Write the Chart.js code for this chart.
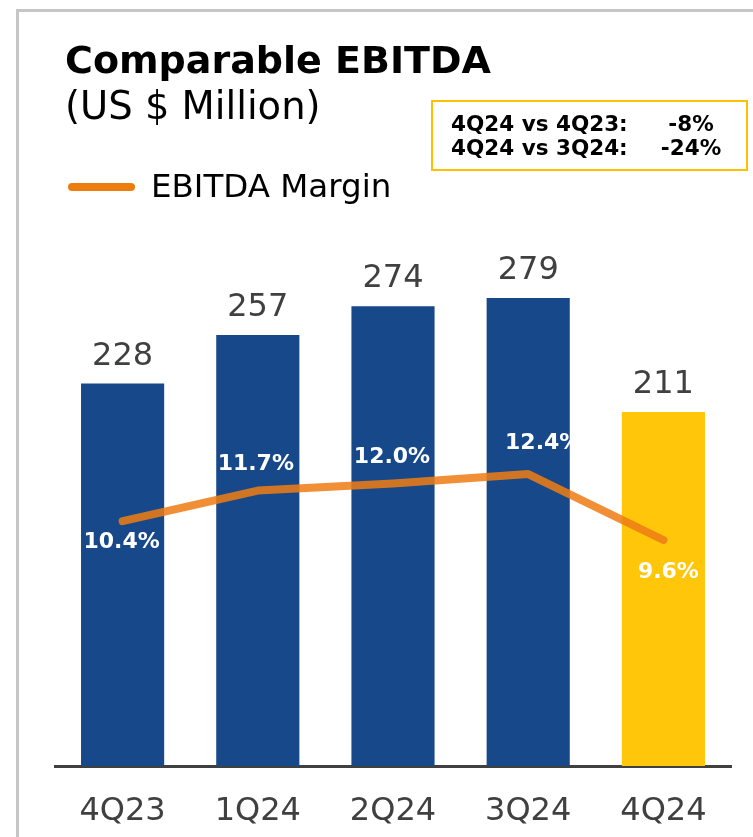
<!DOCTYPE html>
<html>
<head>
<meta charset="utf-8">
<script src="https://cdn.jsdelivr.net/npm/chart.js@4.4.1/dist/chart.umd.min.js"></script>
<style>
html, body { margin: 0; padding: 0; background: #fff; }
#wrap { position: relative; width: 753px; height: 837px; overflow: hidden; }
#frame { position: absolute; left: 16px; top: 9px; right: 0; bottom: 0;
  border-left: 3px solid #c6c6c6; border-top: 3px solid #c6c6c6; }
#myChart { position: absolute; left: 0; top: 0; }
</style>
</head>
<body>
<div id="wrap">
  <div id="frame"></div>
  <canvas id="myChart" width="753" height="837"></canvas>
</div>
<script>
const quarters = ['4Q23', '1Q24', '2Q24', '3Q24', '4Q24'];
const ebitda = [228, 257, 274, 279, 211];
const margin = [10.4, 11.7, 12.0, 12.4, 9.6];
const marginLabels = ['10.4%', '11.7%', '12.0%', '12.4%', '9.6%'];
const compareLabels = ['4Q24 vs 4Q23:', '4Q24 vs 3Q24:'];
const compareValues = ['-8%', '-24%'];

const BLUE = '#16488a';
const YELLOW = '#ffc60a';
const ORANGE = 'rgba(237, 125, 20, 0.86)';
const GREY_TEXT = '#404040';
const FONT = '"DejaVu Sans", Verdana, sans-serif';

// where each margin label sits relative to its point (dx, dy)
const marginLabelShift = [[-1, 19], [-2, -29], [-1, -28], [15, -33], [5, 30]];

const labelPlugin = {
  id: 'labels',
  afterDatasetsDraw(chart) {
    const ctx = chart.ctx;
    ctx.save();
    // bar values
    const bars = chart.getDatasetMeta(0).data;
    ctx.font = '32px ' + FONT;
    ctx.fillStyle = GREY_TEXT;
    ctx.textAlign = 'center';
    ctx.textBaseline = 'alphabetic';
    bars.forEach((b, i) => {
      ctx.fillText(String(ebitda[i]), b.x, b.y - 19);
    });
    // margin values
    const pts = chart.getDatasetMeta(1).data;
    ctx.font = 'bold 22px ' + FONT;
    ctx.fillStyle = '#ffffff';
    pts.forEach((p, i) => {
      const s = marginLabelShift[i];
      ctx.fillText(marginLabels[i], p.x + s[0], p.y + s[1] + 8);
    });
    ctx.restore();
  },
  afterDraw(chart) {
    const ctx = chart.ctx;
    ctx.save();
    ctx.textAlign = 'left';
    ctx.textBaseline = 'alphabetic';
    ctx.fillStyle = '#000';
    ctx.font = 'bold 38px ' + FONT;
    ctx.fillText('Comparable EBITDA', 65, 73);
    ctx.font = '38.5px ' + FONT;
    ctx.fillText('(US $ Million)', 65, 119);

    // legend
    ctx.strokeStyle = '#ee7d10';
    ctx.lineWidth = 8;
    ctx.lineCap = 'round';
    ctx.beginPath();
    ctx.moveTo(72, 187);
    ctx.lineTo(131, 187);
    ctx.stroke();
    ctx.font = '32.5px ' + FONT;
    ctx.fillText(chart.data.datasets[1].label, 151, 197);

    // comparison box
    ctx.strokeStyle = '#ffc000';
    ctx.lineWidth = 2;
    ctx.strokeRect(432, 101, 315, 69);
    ctx.font = 'bold 21.5px ' + FONT;
    const base = [131, 155];
    compareLabels.forEach((t, i) => {
      ctx.textAlign = 'left';
      ctx.fillText(t, 451, base[i]);
      ctx.textAlign = 'center';
      ctx.fillText(compareValues[i], 691, base[i]);
    });
    ctx.restore();
  }
};

const config = {
  data: {
    labels: quarters,
    datasets: [
      {
        type: 'bar',
        label: 'Comparable EBITDA',
        data: ebitda,
        backgroundColor: [BLUE, BLUE, BLUE, BLUE, YELLOW],
        barPercentage: 0.615,
        categoryPercentage: 1,
        yAxisID: 'y',
        order: 2
      },
      {
        type: 'line',
        label: 'EBITDA Margin',
        data: margin,
        borderColor: ORANGE,
        borderWidth: 8,
        borderCapStyle: 'round',
        borderJoinStyle: 'round',
        pointRadius: 0,
        tension: 0,
        yAxisID: 'y2',
        order: 1
      }
    ]
  },
  options: {
    responsive: false,
    animation: false,
    layout: { padding: { left: 55, right: 22, top: 95, bottom: 0 } },
    plugins: {
      legend: { display: false },
      title: { display: false },
      tooltip: { enabled: false }
    },
    scales: {
      x: {
        grid: { display: false, drawTicks: false },
        border: { display: true, color: '#404040', width: 3 },
        ticks: { color: GREY_TEXT, font: { family: FONT, size: 32 }, padding: 26 },
        afterFit(scale) { scale.height = 71; }
      },
      y: { display: false, min: 0, max: 400 },
      y2: { display: false, min: 0, max: 28.5 }
    }
  },
  plugins: [labelPlugin]
};

const myChart = new Chart(document.getElementById('myChart'), config);
</script>
</body>
</html>
